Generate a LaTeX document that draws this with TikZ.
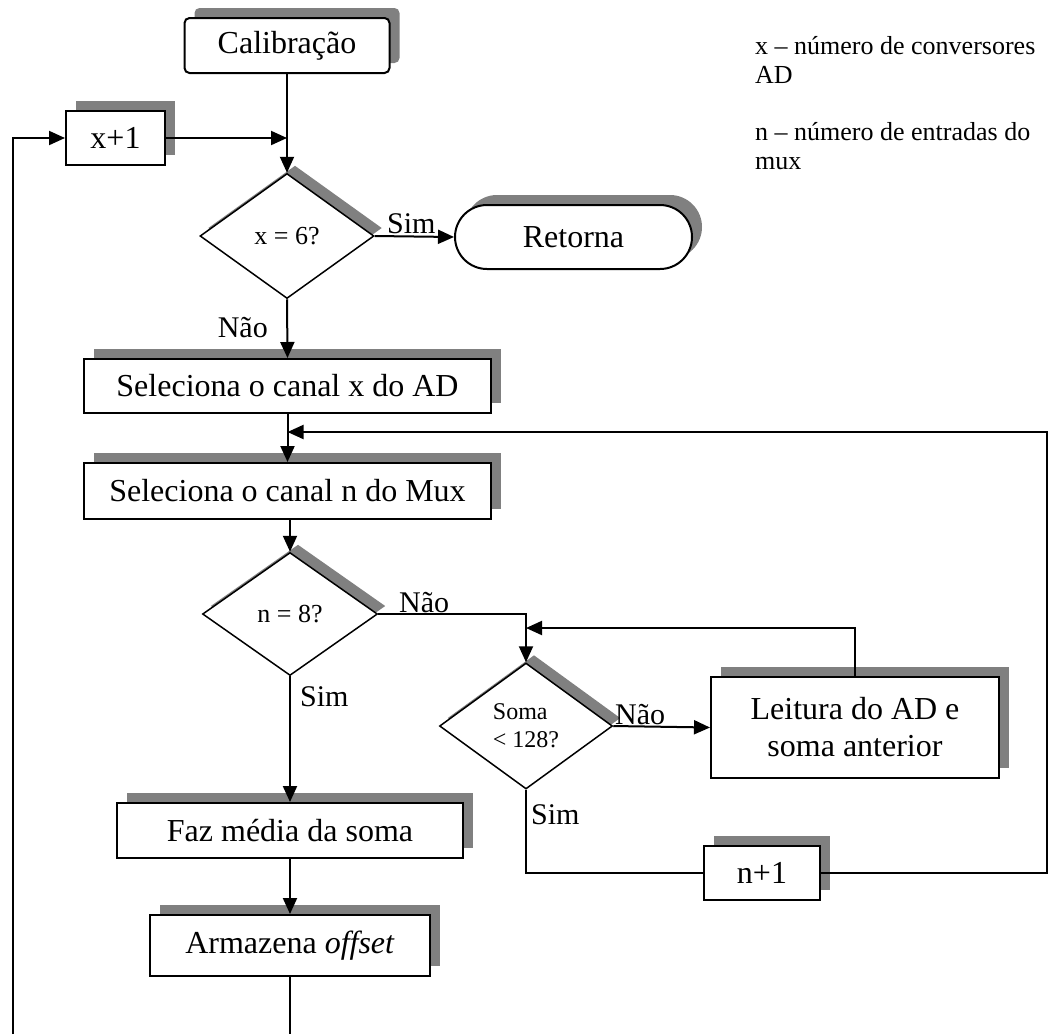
\documentclass[tikz,border=0pt]{standalone}
\usepackage{fontspec}
\setmainfont{Liberation Serif}
\usetikzlibrary{shapes.geometric,shapes.misc,shadows,arrows.meta}
\definecolor{shadegray}{HTML}{808080}
\newcommand\bigtxt{\fontsize{32}{37}\selectfont}
\newcommand\midtxt{\fontsize{26}{31}\selectfont}
\newcommand\smalltxt{\fontsize{24}{28}\selectfont}
\newcommand\labeltxt{\fontsize{30}{34}\selectfont}

\begin{document}
\begin{tikzpicture}[x=1pt,y=-1pt,
  box/.style={draw, line width=2pt, fill=white, inner sep=0pt, align=center, font=\bigtxt,
    general shadow={fill=shadegray, shadow xshift=10pt, shadow yshift=10pt}},
  proc/.style={box, rectangle},
  term/.style={box, rounded corners=5pt},
  stad/.style={box, rounded rectangle, rounded rectangle arc length=180},
  decision/.style={draw, line width=1.5pt, fill=white, diamond, inner sep=0pt, font=\midtxt,
    general shadow={fill=shadegray, shadow xshift=8pt, shadow yshift=8pt}},
  flow/.style={line width=2pt, -{Triangle[length=16pt,width=14pt]}},
  link/.style={line width=1.6pt},
  lbl/.style={font=\labeltxt, inner sep=0pt},
  note/.style={font=\midtxt, inner sep=0pt, anchor=base west}
]
\useasboundingbox (0,0) rectangle (1048,1034);

% process blocks
\node[term, minimum width=205pt, minimum height=55pt] (cal) at (287,45.5) {Calibração};
\node[proc, minimum width=99pt, minimum height=54pt] (xinc) at (115.5,138) {x+1};
\node[decision, minimum width=174pt, minimum height=125pt] (dx) at (287,236) {x = 6?};
\node[stad, minimum width=237pt, minimum height=64pt] (ret) at (573.5,237) {Retorna};
\node[proc, minimum width=407pt, minimum height=54pt] (selx) at (287.5,386) {Seleciona o canal x do AD};
\node[proc, minimum width=407pt, minimum height=56pt] (seln) at (287.5,491) {Seleciona o canal n do Mux};
\node[decision, minimum width=175pt, minimum height=123pt] (dn) at (290,614) {n = 8?};
\node[decision, font=\smalltxt, align=left, minimum width=173pt, minimum height=126pt] (ds) at (526,726) {Soma\\< 128?};
\node[proc, minimum width=288pt, minimum height=101pt] (leit) at (855,727.5) {Leitura do AD e\\soma anterior};
\node[proc, minimum width=116pt, minimum height=54pt] (ninc) at (762,873) {n+1};
\node[proc, minimum width=346pt, minimum height=55pt] (faz) at (290,830.5) {Faz média da soma};
\node[proc, minimum width=280pt, minimum height=61pt] (arm) at (290,945.5) {Armazena \textit{offset}};

% junctions and free ends
\coordinate (jx) at (dx.north |- xinc.east);
\coordinate (jn) at (287.5,432);
\coordinate (rt) at (1047,432);
\coordinate (rb) at (1047,873);
\coordinate (js) at (526,628);
\coordinate (lt) at (leit.north |- js);
\coordinate (lb) at (13,1034);
\coordinate (ltop) at (13,138);
\coordinate (ab) at (290,1034);

% connectors
\draw[flow] (cal.south) -- (dx.north);
\draw[flow] (xinc.east) -- (jx);
\draw[flow] (dx.east) -- (ret.west);
\draw[flow] (dx.south) -- (selx.north);
\draw[flow] (selx.south) -- (seln.north);
\draw[flow] (ninc.east) -- (rb) -- (rt) -- (jn);
\draw[flow] (seln.south -| dn.north) -- (dn.north);
\draw[flow] (dn.east) -- (dn.east -| ds.north) -- (ds.north);
\draw[flow] (leit.north) -- (lt) -- (js);
\draw[flow] (ds.east) -- (leit.west);
\draw[link] (ds.south) |- (ninc.west);
\draw[flow] (dn.south) -- (faz.north);
\draw[flow] (faz.south) -- (arm.north);
\draw[link] (arm.south) -- (ab);
\draw[flow] (lb) -- (ltop) -- (xinc.west);

% branch labels
\node[lbl, anchor=base west] (simx) at (387,233) {Sim};
\node[lbl, anchor=base east] (naox) at (268,337) {Não};
\node[lbl, anchor=base west] (naon) at (399,612) {Não};
\node[lbl, anchor=base west] (simn) at (300,706) {Sim};
\node[lbl, anchor=base west] (naos) at (615,724) {Não};
\node[lbl, anchor=base west] (sims) at (531,824) {Sim};

% legend
\node[note] (lg1) at (755,54) {x – número de conversores};
\node[note] (lg2) at (755,83) {AD};
\node[note] (lg3) at (755,140) {n – número de entradas do};
\node[note] (lg4) at (755,169) {mux};
\end{tikzpicture}
\end{document}
